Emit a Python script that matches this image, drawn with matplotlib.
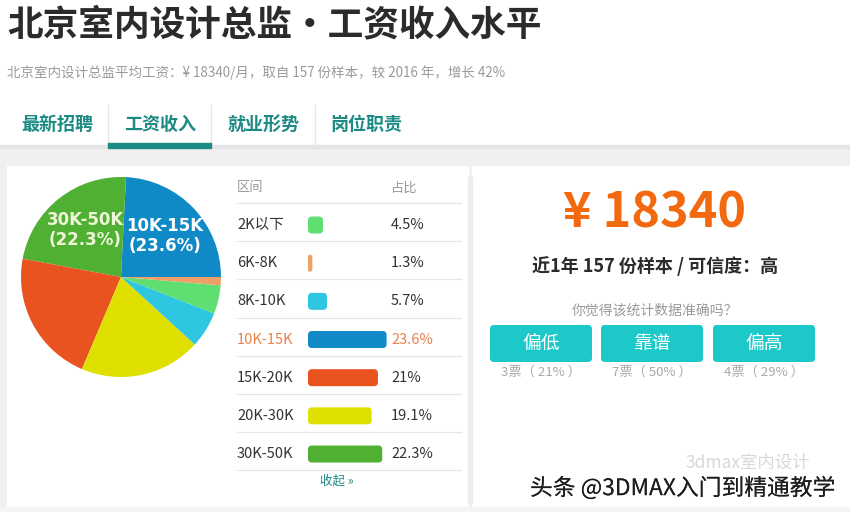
import matplotlib
matplotlib.use("Agg")
import matplotlib.pyplot as plt
from matplotlib.patches import Rectangle, FancyBboxPatch
import matplotlib.patheffects as pe

plt.rcParams['font.family'] = ['Noto Sans CJK SC', 'DejaVu Sans']

# ---------------- data ----------------
title = "北京室内设计总监•工资收入水平"
subtitle = "北京室内设计总监平均工资：¥ 18340/月，取自 157 份样本，较 2016 年，增长 42%"
tabs = ["最新招聘", "工资收入", "就业形势", "岗位职责"]

ranges = ["2K以下", "6K-8K", "8K-10K", "10K-15K", "15K-20K", "20K-30K", "30K-50K"]
shares = [4.5, 1.3, 5.7, 23.6, 21, 19.1, 22.3]
share_labels = ["4.5%", "1.3%", "5.7%", "23.6%", "21%", "19.1%", "22.3%"]
colors = ["#5fdf72", "#eea066", "#2ec6e0", "#0f8ac6", "#e9531f", "#dfe000", "#4fb034"]

pie_order = ["10K-15K", "30K-50K", "15K-20K", "20K-30K", "8K-10K", "2K以下", "6K-8K"]
pie_labelled = ["10K-15K", "30K-50K"]

avg_salary = "¥ 18340"
sample_line = "近1年 157 份样本 / 可信度：高"
question = "你觉得该统计数据准确吗？"
vote_buttons = ["偏低", "靠谱", "偏高"]
vote_counts = ["3票（ 21% ）", "7票（ 50% ）", "4票（ 29% ）"]
watermark = "头条 @3DMAX入门到精通教学"
faint_mark = "3dmax室内设计"

# ---------------- figure ----------------
W, H = 850, 512
fig = plt.figure(figsize=(W / 100, H / 100), dpi=100)
bg = fig.add_axes([0, 0, 1, 1])
bg.set_xlim(0, W)
bg.set_ylim(H, 0)
bg.axis("off")

teal = "#1a8a82"
# background areas
bg.add_patch(Rectangle((0, 147), W, H - 147, color="#f1eff1", zorder=0))
bg.add_patch(Rectangle((7, 166), 461, 340, color="white", zorder=0.5))
bg.add_patch(Rectangle((472, 166), W - 472, 340, color="white", zorder=0.5))
bg.add_patch(Rectangle((0, 145), W, 3, color="#e6e4e6", zorder=0.4))

# title & subtitle
bg.text(7, 25, title, fontsize=25.7, fontweight="bold", color="#2b2b2b", va="center", ha="left")
bg.text(7, 73, subtitle, fontsize=9.7, color="#9a9a9a", va="center", ha="left")

# tabs
tab_x = [57, 160, 263, 366]
for tx, t in zip(tab_x, tabs):
    bg.text(tx, 124, t, fontsize=13, fontweight="bold", color=teal, va="center", ha="center")
for sx in [108, 211, 315]:
    bg.plot([sx, sx], [105, 146], color="#e8e8e8", lw=1, zorder=1)
bg.add_patch(Rectangle((108, 143), 103, 5, color=teal, zorder=2))

# ---------------- pie ----------------
cx, cy, r = 121, 277, 100
pax = fig.add_axes([(cx - r) / W, 1 - (cy + r) / H, 2 * r / W, 2 * r / H])
pvals = [shares[ranges.index(n)] for n in pie_order]
pcols = [colors[ranges.index(n)] for n in pie_order]
wedges, _ = pax.pie(pvals, colors=pcols, startangle=0, counterclock=True,
                    radius=1, wedgeprops=dict(linewidth=0))
pax.set_xlim(-1, 1)
pax.set_ylim(-1, 1)
pax.axis("off")
label_pos = {"10K-15K": (0.44, 0.41), "30K-50K": (-0.36, 0.47)}
label_col = {"10K-15K": "#ffffff", "30K-50K": "#eef6d8"}
for n in pie_labelled:
    v = shares[ranges.index(n)]
    x, y = label_pos[n]
    pax.text(x, y, f"{n}\n({v}%)", ha="center", va="center", fontsize=12,
             fontweight="bold", color=label_col[n], family="DejaVu Sans",
             linespacing=1.15, clip_on=False)

# ---------------- table ----------------
row_y0, row_dy = 225, 38.17
bg.text(237, 188, "区间", fontsize=9.5, color="#9a9a9a", va="center", ha="left")
bg.text(391, 188, "占比", fontsize=9.5, color="#9a9a9a", va="center", ha="left")
for k in range(8):
    ly = 203 + k * row_dy
    bg.plot([237, 461], [ly, ly], color="#e6e6e6", lw=0.9, zorder=1)
for i, (n, s) in enumerate(zip(ranges, share_labels)):
    yy = row_y0 + i * row_dy
    c = "#e8834a" if n == "10K-15K" else "#333333"
    bg.text(237, yy, n, fontsize=10.5, color=c, va="center", ha="left")
    bg.text(391, yy, s, fontsize=10.5, color=c, va="center", ha="left")
bg.text(337, 481, "收起 »", fontsize=9, color=teal, va="center", ha="center")

# bars
px_per_pct = 3.33
bx0 = 308
bax_w = 100 * px_per_pct
top = row_y0 - row_dy / 2
bax = fig.add_axes([bx0 / W, 1 - (top + 7 * row_dy) / H, bax_w / W, 7 * row_dy / H])
bax.set_xlim(0, 100)
bax.set_ylim(6.5, -0.5)
bax.axis("off")
bar_h_px = 17
bh = bar_h_px / row_dy
x_per_px = 1 / px_per_pct
y_per_px = 1 / row_dy
for i, (v, c) in enumerate(zip(shares, colors)):
    rs = min(4 * x_per_px, v / 2 * 0.95)
    p = FancyBboxPatch((0, i - bh / 2), v, bh,
                       boxstyle=f"round,pad=0,rounding_size={rs}",
                       mutation_aspect=y_per_px / x_per_px,
                       facecolor=c, edgecolor="none")
    bax.add_patch(p)

# ---------------- right panel ----------------
bg.add_patch(Rectangle((468, 177), 4, 326, color="#ececec", zorder=1))
bg.text(655, 213, avg_salary, fontsize=35, fontweight="bold", color="#f2690f",
        va="center", ha="center")
bg.text(655, 266, sample_line, fontsize=13, fontweight="bold", color="#2b2b2b",
        va="center", ha="center")
bg.text(655, 310, question, fontsize=10, color="#9a9a9a", va="center", ha="center")
btn_x = [490, 601, 713]
for x0, b, vc in zip(btn_x, vote_buttons, vote_counts):
    bg.add_patch(FancyBboxPatch((x0, 325), 102, 37, boxstyle="round,pad=0,rounding_size=4",
                                facecolor="#1cc8c8", edgecolor="none", zorder=2))
    bg.text(x0 + 51, 343, b, fontsize=13.5, color="white", va="center", ha="center", zorder=3)
    bg.text(x0 + 51, 372, vc, fontsize=9.5, color="#a8a8a8", va="center", ha="center")

# watermark
bg.text(748, 463, faint_mark, fontsize=12.5, color="#d8d8d8", va="center", ha="center", zorder=3)
bg.text(530, 488, watermark, fontsize=16.4, color="#1e1e1e", va="center", ha="left", zorder=4,
        path_effects=[pe.withSimplePatchShadow(offset=(1, -1), shadow_rgbFace="#ffffff", alpha=1),
                      pe.Normal()])
bg.add_patch(Rectangle((0, 507), W, 5, color="#f4f4f4", zorder=1))

fig.savefig("out.png", dpi=100)
